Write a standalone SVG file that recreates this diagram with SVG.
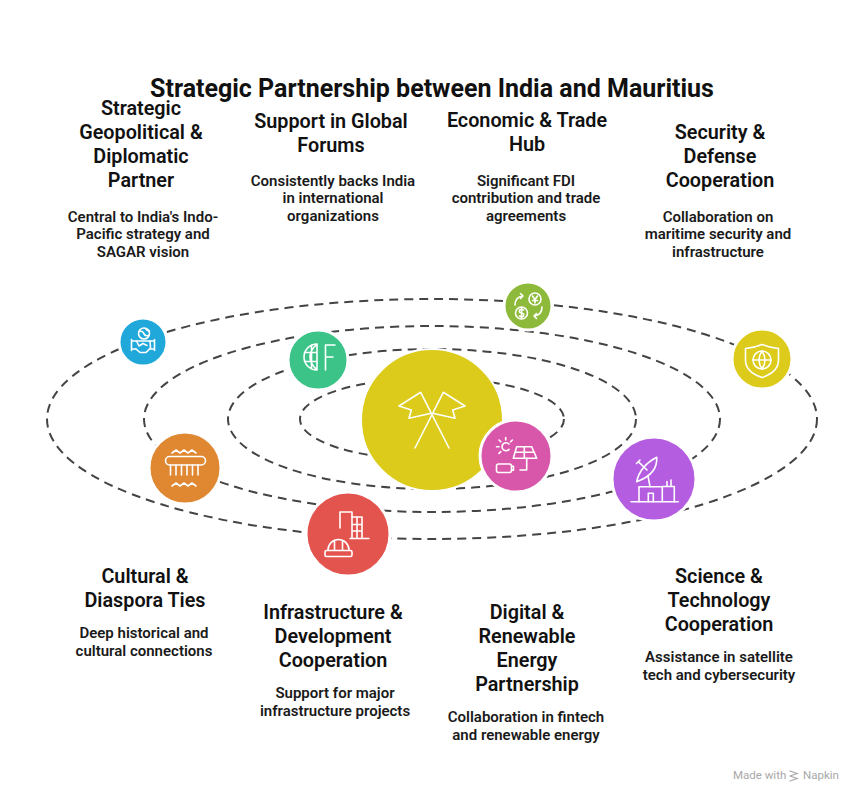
<svg xmlns="http://www.w3.org/2000/svg" width="864" height="804" viewBox="0 0 864 804">
<style>
.orbit{fill:none;stroke:#444;stroke-width:2;stroke-dasharray:9 6}
.node{stroke:#fff;stroke-width:3}
.ic{fill:none;stroke:#fff;stroke-width:1.6;stroke-linecap:round;stroke-linejoin:round}
.title{font-family:Roboto,"Liberation Sans",sans-serif;font-weight:700;font-size:25px;fill:#111;text-anchor:middle}
.h{font-family:Roboto,"Liberation Sans",sans-serif;font-weight:600;font-size:19.8px;fill:#111;text-anchor:middle}
.d{font-family:Roboto,"Liberation Sans",sans-serif;font-weight:600;font-size:15px;fill:#1a1a1a;text-anchor:middle}
.wm{font-family:Roboto,"Liberation Sans",sans-serif;font-size:11.5px;fill:#a8a8a8}
</style>
<rect width="864" height="804" fill="#fff"/>
<text class="title" x="432" y="96.5">Strategic Partnership between India and Mauritius</text>

<g id="connectors">
<ellipse class="orbit" cx="432" cy="419" rx="385" ry="120"/>
<ellipse class="orbit" cx="432" cy="419" rx="288" ry="93"/>
<ellipse class="orbit" cx="432" cy="419" rx="204" ry="70"/>
<ellipse class="orbit" cx="432" cy="419" rx="132" ry="41"/>
</g>

<g id="center">
<circle cx="432" cy="420" r="71" fill="#DCCB1A" stroke="#fff" stroke-width="2"/>
<g class="ic">
<path d="M415 448 L443.3 392.3 L465 406 L452.7 410 L455 418.3 L432.7 413.3"/>
<path d="M449 448 L420.7 392.3 L399 406 L411.3 410 L409 418.3 L431.3 413.3"/>
</g>
</g>

<g id="node-geopolitical">
<circle class="node" cx="143" cy="342" r="24" fill="#21A8DB"/>
<g class="ic" stroke-width="1.4">
<circle cx="144" cy="333.5" r="5.5"/>
<path d="M139.5 331.5 Q143 330.5 144 334 Q145.5 336.5 148.5 335.5 M145.5 328.5 Q147 331 149.5 331"/>
<path d="M131.5 339.5 V350.5 M131.5 341 H136.5 M131.5 349 H136"/>
<path d="M154.5 339.5 V350.5 M154.5 341 H150 M154.5 349 H150.5"/>
<path d="M136.5 341 H141 L147 341 L150 341 L150.5 348 L146 352.5 L140 352.5 L136 349 M136.5 341 L139 346 L143 343.5 L147 345.5"/>
</g>
<text class="h"><tspan x="141" y="115">Strategic</tspan><tspan x="141" y="139">Geopolitical &amp;</tspan><tspan x="141" y="163">Diplomatic</tspan><tspan x="141" y="187">Partner</tspan></text>
<text class="d"><tspan x="143" y="221.5">Central to India's Indo-</tspan><tspan x="143" y="239">Pacific strategy and</tspan><tspan x="143" y="256.5">SAGAR vision</tspan></text>
</g>

<g id="node-forums">
<circle class="node" cx="318" cy="360" r="30" fill="#3CC488"/>
<g class="ic" stroke-width="1.5">
<path d="M317 344 A13 13 0 0 0 317 370 M317 344 V370 M317 344 Q303 357 317 370 M311.5 345 V369 M304.5 352.5 H317 M304.5 361.5 H317"/>
<path d="M325.5 345 V370 M325.5 345 H335 M325.5 357 H333"/>
</g>
<text class="h"><tspan x="331" y="128">Support in Global</tspan><tspan x="331" y="152">Forums</tspan></text>
<text class="d"><tspan x="333" y="185.5">Consistently backs India</tspan><tspan x="333" y="203">in international</tspan><tspan x="333" y="220.5">organizations</tspan></text>
</g>

<g id="node-economic">
<circle class="node" cx="528" cy="306" r="24" fill="#8DBA3A"/>
<g class="ic" stroke-width="1.3">
<circle cx="535" cy="299" r="6"/>
<circle cx="521.5" cy="313" r="6"/>
<path d="M532.5 296 L535 299.5 L537.5 296 M535 299.5 V303 M532.5 300.5 H537.5"/>
<path d="M523.5 310 Q521.5 308.5 519.5 310 Q518.5 312.5 521.5 313 Q524.5 313.5 523.5 316 Q521.5 317.5 519.5 316 M521.5 308 V318"/>
<path d="M515 305 Q515 297 523 296 M520.5 293.5 L523 296 L520.5 298.5"/>
<path d="M542 307 Q542 315 534 316 M536.5 313.5 L534 316 L536.5 318.5"/>
</g>
<text class="h"><tspan x="527" y="127">Economic &amp; Trade</tspan><tspan x="527" y="151">Hub</tspan></text>
<text class="d"><tspan x="526" y="185.5">Significant FDI</tspan><tspan x="526" y="203">contribution and trade</tspan><tspan x="526" y="220.5">agreements</tspan></text>
</g>

<g id="node-security">
<circle class="node" cx="762" cy="359" r="30" fill="#DCCB1A"/>
<g class="ic" stroke-width="1.4">
<path d="M762 344.5 Q770 348 778.5 348.5 V360 Q778.5 372 762 377.5 Q745.5 372 745.5 360 V348.5 Q754 348 762 344.5 Z"/>
<circle cx="762" cy="360" r="9"/>
<path d="M753 360 H771 M762 351 Q756 360 762 369 Q768 360 762 351"/>
</g>
<text class="h"><tspan x="720" y="139">Security &amp;</tspan><tspan x="720" y="163">Defense</tspan><tspan x="720" y="187">Cooperation</tspan></text>
<text class="d"><tspan x="718" y="221.5">Collaboration on</tspan><tspan x="718" y="239">maritime security and</tspan><tspan x="718" y="256.5">infrastructure</tspan></text>
</g>

<g id="node-cultural">
<circle class="node" cx="185" cy="468" r="36" fill="#DF8731"/>
<g class="ic" stroke-width="1.5">
<path d="M172 453 L176 450 L180 453 L184 450 L188 453 L192 450 L196 453"/>
<rect x="165.5" y="456.5" width="40" height="8.5" rx="4.2"/>
<path d="M170.5 465 V475 M176 465 V475 M181.5 465 V475 M187 465 V475 M192.5 465 V475 M198 465 V475"/>
<path d="M172 486 L176 483 L180 486 L184 483 L188 486 L192 483 L196 486"/>
</g>
<text class="h"><tspan x="145" y="583">Cultural &amp;</tspan><tspan x="145" y="607">Diaspora Ties</tspan></text>
<text class="d"><tspan x="144" y="638">Deep historical and</tspan><tspan x="144" y="655.5">cultural connections</tspan></text>
</g>

<g id="node-infrastructure">
<circle class="node" cx="348" cy="534" r="42" fill="#E4544F"/>
<g class="ic">
<path d="M340 528 V512 H352 V517"/>
<path d="M352 538 V517 H362 V538 M352 524.5 H362 M352 531 H362 M357 517 V538 M350 538.5 H369"/>
<path d="M328 550 A10.5 10.5 0 0 1 349 550"/>
<path d="M334.5 550 V541 M342.5 550 V541"/>
<rect x="325" y="550.5" width="27" height="6" rx="1.5"/>
</g>
<text class="h"><tspan x="333" y="619">Infrastructure &amp;</tspan><tspan x="333" y="643">Development</tspan><tspan x="333" y="667">Cooperation</tspan></text>
<text class="d"><tspan x="335" y="698">Support for major</tspan><tspan x="335" y="715.5">infrastructure projects</tspan></text>
</g>

<g id="node-digital">
<circle cx="516" cy="456" r="36" fill="#D957AA" stroke="#fff" stroke-width="3"/>
<g class="ic" stroke-width="1.4">
<path d="M509 444 A4 4 0 1 0 509 449.4"/>
<path d="M505.7 437.5 V440 M496.5 446.7 H499 M499 440 L500.8 441.8 M512.4 440 L510.6 441.8 M499 453.4 L500.8 451.6"/>
<path d="M516.7 446.7 H531.7 L536.7 458.3 H513.3 Z M515 452.3 H534.5 M524.3 446.7 V458.3"/>
<path d="M526.7 458.3 V470 H520"/>
<rect x="496.5" y="464" width="15" height="8.5" rx="2"/>
<path d="M511.5 466.3 H513.5 V470.2 H511.5"/>
</g>
<text class="h"><tspan x="527" y="619">Digital &amp;</tspan><tspan x="527" y="643">Renewable</tspan><tspan x="527" y="667">Energy</tspan><tspan x="527" y="691">Partnership</tspan></text>
<text class="d"><tspan x="526" y="722">Collaboration in fintech</tspan><tspan x="526" y="739.5">and renewable energy</tspan></text>
</g>

<g id="node-science">
<circle class="node" cx="654" cy="479" r="42" fill="#B55DE0"/>
<g class="ic" stroke-width="1.5">
<path d="M636.7 481.7 Q640 466 656.7 457.3 Q658 474 636.7 481.7 Z"/>
<path d="M647 470 L638.3 461.7 M636.5 463.5 L640 460"/>
<path d="M648 476 L650 486.7"/>
<path d="M639 501.7 V486.7 H662.3 V501.7 M648.3 501.7 V493.3 H653.3 V501.7"/>
<path d="M662.3 486.5 H667 V481.5 M667 486.5 H671 V480 M671 486.5 H674.3 V501.7"/>
<path d="M631 501.7 H678.3"/>
</g>
<text class="h"><tspan x="719" y="583">Science &amp;</tspan><tspan x="719" y="607">Technology</tspan><tspan x="719" y="631">Cooperation</tspan></text>
<text class="d"><tspan x="719" y="662">Assistance in satellite</tspan><tspan x="719" y="679.5">tech and cybersecurity</tspan></text>
</g>

<g id="watermark">
<text class="wm" x="733" y="779">Made with</text>
<g fill="none" stroke="#a8a8a8" stroke-width="1.3" stroke-linecap="round">
<path d="M790 771 L797 773.5 L790 776 M790 776 L797 778.5 L790 781"/>
</g>
<text class="wm" x="803" y="779">Napkin</text>
</g>
</svg>
